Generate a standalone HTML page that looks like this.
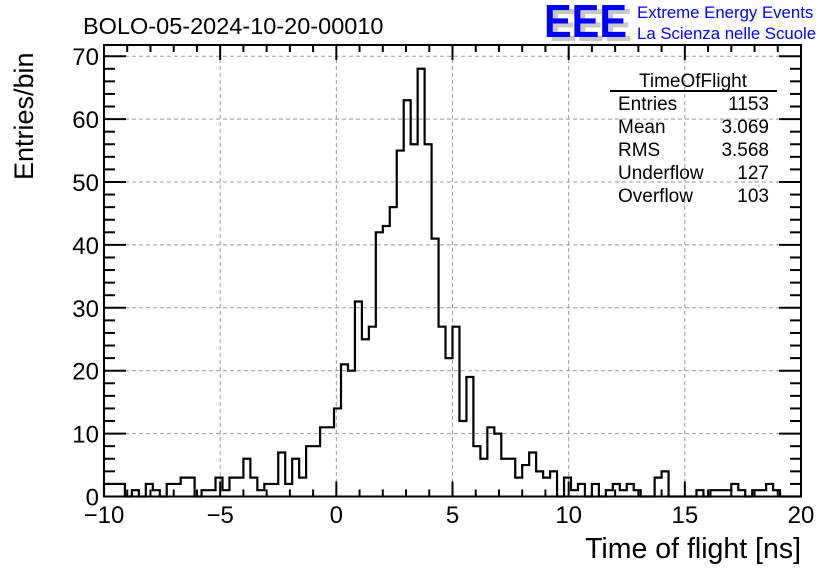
<!DOCTYPE html>
<html><head><meta charset="utf-8">
<style>
html,body{margin:0;padding:0;background:#fff;}
svg{display:block;font-family:"Liberation Sans",sans-serif;}
</style></head>
<body>
<svg id="chart" width="836" height="572" viewBox="0 0 836 572" xmlns="http://www.w3.org/2000/svg">
<rect x="0" y="0" width="836" height="572" fill="#fff"/>
<g id="grid"></g>
<g id="hist"></g>
<g id="axes"></g>
<text x="83" y="34" font-size="23.5">BOLO-05-2024-10-20-00010</text>
<g>
<text x="549" y="41" font-size="46" font-weight="bold" fill="#c8c8c8" textLength="83" lengthAdjust="spacingAndGlyphs">EEE</text>
<text x="544" y="37" font-size="46" font-weight="bold" fill="#0000ff" textLength="83" lengthAdjust="spacingAndGlyphs">EEE</text>
<text x="637" y="18" font-size="16.8" fill="#0000ff">Extreme Energy Events</text>
<text x="637" y="39" font-size="16.8" fill="#0000ff">La Scienza nelle Scuole</text>
</g>
<text x="801" y="558" font-size="28.5" text-anchor="end">Time of flight [ns]</text>
<text transform="translate(33,180) rotate(-90)" font-size="27">Entries/bin</text>
<g font-size="19">
<text x="693" y="87" text-anchor="middle">TimeOfFlight</text>
<line x1="610" y1="91" x2="777" y2="91" stroke="#000" stroke-width="2"/>
<text x="618" y="110">Entries</text>
<text x="769" y="110" text-anchor="end">1153</text>
<text x="618" y="133">Mean</text>
<text x="769" y="133" text-anchor="end">3.069</text>
<text x="618" y="156">RMS</text>
<text x="769" y="156" text-anchor="end">3.568</text>
<text x="618" y="179">Underflow</text>
<text x="769" y="179" text-anchor="end">127</text>
<text x="618" y="202">Overflow</text>
<text x="769" y="202" text-anchor="end">103</text>
</g>
</svg>
<script>
const binCounts = [2,2,2,0,1,0,2,1,0,2, 2,3,3,0,1,1,3,1,3,3, 6,3,1,2,2,7,2,6,3,8,
 8,11,11,14,21,20,31,25,27,42, 43,46,55,63,56,68,56,41,27,22, 27,12,19,8,6,11,10,6,6,3,
 5,7,4,3,4,0,3,1,2,0, 2,0,1,2,1,2,1,0,0,3, 4,0,0,0,0,1,0,1,1,1, 2,1,0,1,1,2,1,0,0,0];
const xRange = [-10, 20];
const yMax = 71.78;
const xTickLabels = ["\u221210","\u22125","0","5","10","15","20"];
const xTickValues = [-10,-5,0,5,10,15,20];
const yTickValues = [0,10,20,30,40,50,60,70];

const L=104,R=801,T=45,B=496.5;
const NS="http://www.w3.org/2000/svg";
const sx=v=>L+(v-xRange[0])/(xRange[1]-xRange[0])*(R-L);
const sy=v=>B-v/yMax*(B-T);
function mk(tag,attrs,parent){const e=document.createElementNS(NS,tag);for(const k in attrs)e.setAttribute(k,attrs[k]);parent.appendChild(e);return e;}
const grid=document.getElementById('grid'),axes=document.getElementById('axes'),hist=document.getElementById('hist');

xTickValues.forEach(v=>{if(v>xRange[0]&&v<xRange[1]){const g=mk('line',{x1:sx(v),x2:sx(v),y1:T,y2:B,stroke:'#999','stroke-dasharray':'4,3','stroke-width':1},grid);

}});
yTickValues.forEach(v=>{if(v>0){const g=mk('line',{x1:L,x2:R,y1:sy(v),y2:sy(v),stroke:'#999','stroke-dasharray':'4,3','stroke-width':1},grid);

}});

const bw=(xRange[1]-xRange[0])/binCounts.length;
let d='M'+sx(xRange[0])+','+sy(0);
binCounts.forEach((c,i)=>{const x0=sx(xRange[0]+i*bw),x1=sx(xRange[0]+(i+1)*bw);d+=' L'+x0+','+sy(c)+' L'+x1+','+sy(c);});
d+=' L'+sx(xRange[1])+','+sy(0);
const p=mk('path',{d:d,fill:'none',stroke:'#000','stroke-width':2.2},hist);



const fr=mk('rect',{x:L,y:T,width:R-L,height:B-T,fill:'none',stroke:'#000','stroke-width':2},axes);



for(let v=xRange[0];v<=xRange[1];v+=1){const major=(v%5===0);const len=major?15:7;
 const t1=mk('line',{x1:sx(v),x2:sx(v),y1:B,y2:B-len,stroke:'#000','stroke-width':2},axes);
 
 
 const t2=mk('line',{x1:sx(v),x2:sx(v),y1:T,y2:T+len,stroke:'#000','stroke-width':2},axes);
 
 }
xTickValues.forEach((v,i)=>{const t=mk('text',{x:sx(v),y:523,'font-size':24,'text-anchor':'middle'},axes);t.textContent=xTickLabels[i];
 
 });
for(let v=0;v<=yMax;v+=2){const major=(v%10===0);const len=major?22:11;
 const t1=mk('line',{x1:L,x2:L+len,y1:sy(v),y2:sy(v),stroke:'#000','stroke-width':2},axes);
 
 
 const t2=mk('line',{x1:R,x2:R-len,y1:sy(v),y2:sy(v),stroke:'#000','stroke-width':2},axes);
 
 }
yTickValues.forEach(v=>{const t=mk('text',{x:99,y:sy(v)+9,'font-size':24,'text-anchor':'end'},axes);t.textContent=String(v);
 
 });
</script>
</body></html>
